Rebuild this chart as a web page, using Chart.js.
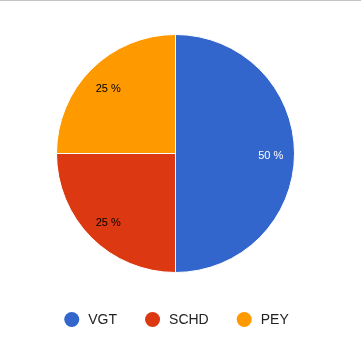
<!DOCTYPE html>
<html lang="en">
<head>
<meta charset="UTF-8">
<title>Portfolio</title>
<script src="https://cdn.jsdelivr.net/npm/chart.js"></script>
<style>
  html, body { margin: 0; padding: 0; background: #fff; }
  .wrap { width: 361px; height: 350px; border-top: 1px solid #c4c4c4; }
</style>
</head>
<body>
<div class="wrap"><canvas id="pie" width="361" height="350"></canvas></div>
<script>
const labels = ['VGT', 'SCHD', 'PEY'];
const shares = [50, 25, 25];
const colors = ['#3366cc', '#dc3912', '#ff9900'];
const labelColors = ['#ffffff', '#000000', '#000000'];

// percent text inside each slice
const sliceLabels = {
  id: 'sliceLabels',
  afterDatasetsDraw(chart) {
    const ctx = chart.ctx;
    const total = shares.reduce((a, b) => a + b, 0);
    ctx.save();
    ctx.font = '11px Arial, "Liberation Sans", sans-serif';
    ctx.textAlign = 'center';
    ctx.textBaseline = 'middle';
    chart.getDatasetMeta(0).data.forEach((arc, i) => {
      const { x, y, startAngle, endAngle, outerRadius } = arc.getProps(['x', 'y', 'startAngle', 'endAngle', 'outerRadius'], true);
      const mid = (startAngle + endAngle) / 2;
      const r = outerRadius * 0.8;
      ctx.fillStyle = labelColors[i];
      ctx.fillText(Math.round(shares[i] / total * 100) + ' %', x + Math.cos(mid) * r, y + Math.sin(mid) * r + 2.5);
    });
    ctx.restore();
  }
};

// legend at the bottom, circles + names
const bottomLegend = {
  id: 'bottomLegend',
  afterDraw(chart) {
    const ctx = chart.ctx;
    ctx.save();
    ctx.font = '14px Arial, "Liberation Sans", sans-serif';
    ctx.textBaseline = 'middle';
    const dot = 15, gap = 9, between = 28;
    const widths = labels.map(l => ctx.measureText(l).width);
    let total = widths.reduce((a, w) => a + dot + gap + w, 0) + between * (labels.length - 1);
    let x = 176.5 - total / 2;
    const y = 318.5;
    labels.forEach((l, i) => {
      ctx.fillStyle = colors[i];
      ctx.beginPath();
      ctx.arc(x + dot / 2, y, dot / 2, 0, Math.PI * 2);
      ctx.fill();
      ctx.fillStyle = '#222222';
      ctx.fillText(l, x + dot + gap, y + 1);
      x += dot + gap + widths[i] + between;
    });
    ctx.restore();
  }
};

new Chart(document.getElementById('pie'), {
  type: 'pie',
  data: {
    labels: labels,
    datasets: [{
      data: shares,
      backgroundColor: colors,
      borderColor: '#ffffff',
      borderWidth: 1
    }]
  },
  options: {
    responsive: false,
    animation: false,
    layout: { padding: { top: 33, bottom: 78, left: 56, right: 66 } },
    plugins: {
      legend: { display: false },
      tooltip: { enabled: false }
    }
  },
  plugins: [sliceLabels, bottomLegend]
});
</script>
</body>
</html>
